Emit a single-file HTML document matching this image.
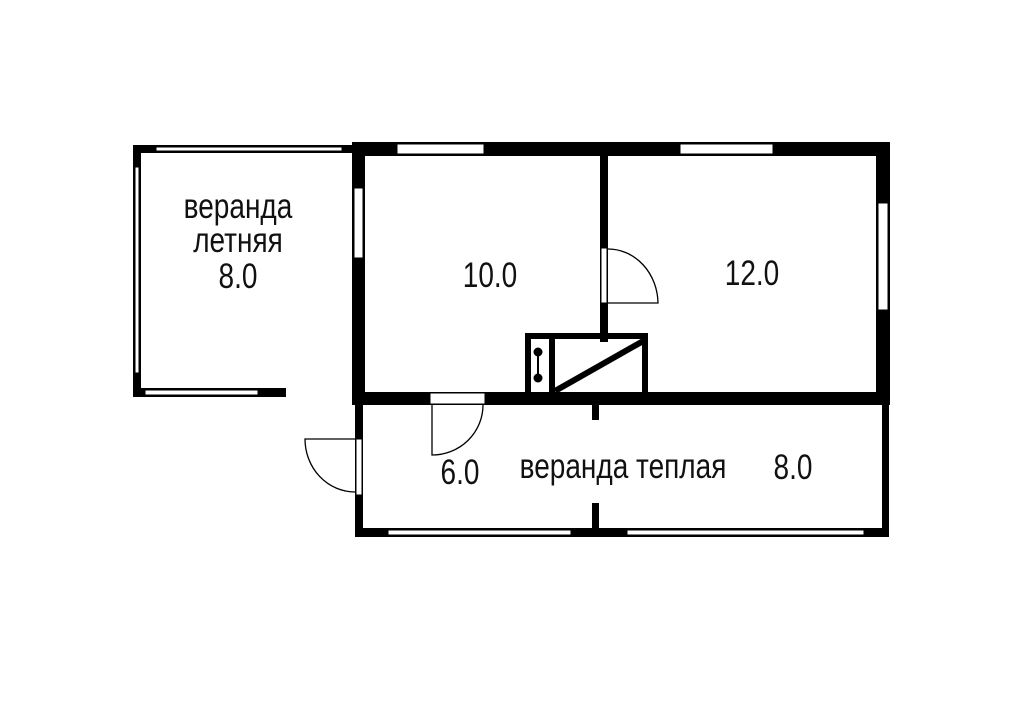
<!DOCTYPE html>
<html><head><meta charset="utf-8"><style>
html,body{margin:0;padding:0;background:#fff;}
svg{display:block;}
text{font-family:"Liberation Sans","DejaVu Sans",sans-serif;font-size:28px;fill:#111;text-anchor:middle;}
</style></head><body>
<svg width="1024" height="716" viewBox="0 0 1024 716" xmlns="http://www.w3.org/2000/svg">
<rect width="1024" height="716" fill="#fff"/>
<g fill="#000">
<rect x="133" y="145" width="219" height="8"/>
<rect x="133" y="145" width="8" height="252"/>
<rect x="133" y="388" width="153" height="9"/>
<rect x="352" y="142" width="538" height="14"/>
<rect x="352" y="142" width="13" height="263"/>
<rect x="876" y="142" width="14" height="263"/>
<rect x="352" y="392" width="538" height="13"/>
<rect x="600" y="150" width="8" height="192"/>
<rect x="355" y="400" width="8" height="137"/>
<rect x="882" y="400" width="7" height="137"/>
<rect x="355" y="528" width="534" height="9"/>
<rect x="592" y="400" width="7" height="20"/>
<rect x="592" y="503" width="7" height="30"/>
<rect x="525" y="333" width="123" height="6"/>
<rect x="525" y="333" width="6" height="62"/>
<rect x="642" y="333" width="6" height="62"/>
<rect x="549" y="333" width="6" height="62"/>
</g>
<g fill="#fff" stroke="#000" stroke-width="1">
<rect x="156" y="147" width="186" height="4"/>
<rect x="135" y="167" width="4" height="206"/>
<rect x="145" y="390" width="113" height="5"/>
<rect x="397" y="144" width="87" height="10"/>
<rect x="680" y="144" width="93" height="10"/>
<rect x="354" y="188" width="9" height="70"/>
<rect x="878" y="203" width="10" height="107"/>
<rect x="601" y="248" width="6" height="55"/>
<rect x="430" y="393" width="55" height="11"/>
<rect x="356" y="439" width="6" height="56"/>
<rect x="388" y="530" width="183" height="5"/>
<rect x="627" y="530" width="237" height="5"/>
</g>
<g fill="none" stroke="#000" stroke-width="1.3">
<path d="M608 303 H658 A50 55 0 0 0 608 249"/>
<path d="M432 405 V455 A51 50 0 0 0 483 405"/>
<path d="M355 439 H305 A50 53 0 0 0 355 492"/>
</g>
<g fill="#000">
<circle cx="538" cy="352" r="4.5"/>
<circle cx="538" cy="378" r="4.5"/>
<rect x="537" y="352" width="2" height="26"/>
</g>
<line x1="555" y1="391" x2="645" y2="340" stroke="#000" stroke-width="6"/>
<text transform="translate(238,218) scale(1,1.25)">веранда</text>
<text transform="translate(238,252) scale(1,1.25)">летняя</text>
<text transform="translate(238,288) scale(1,1.25)">8.0</text>
<text transform="translate(490,287) scale(1,1.25)">10.0</text>
<text transform="translate(752,285) scale(1,1.25)">12.0</text>
<text transform="translate(460,484) scale(1,1.25)">6.0</text>
<text transform="translate(623,478) scale(1,1.25)">веранда теплая</text>
<text transform="translate(793,479) scale(1,1.25)">8.0</text>
</svg>
</body></html>
